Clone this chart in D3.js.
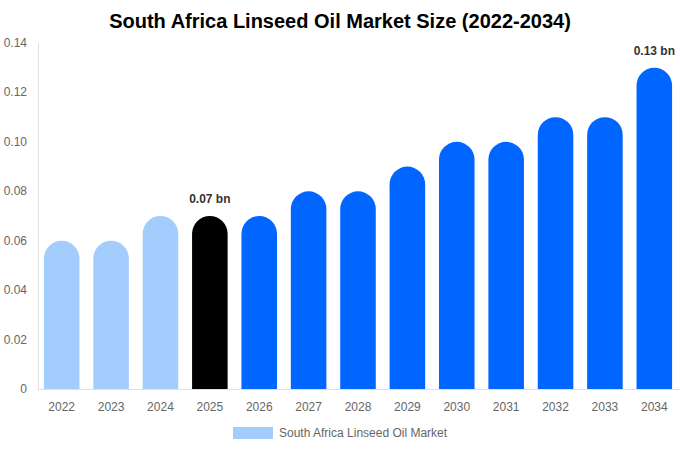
<!DOCTYPE html>
<html><head><meta charset="utf-8">
<script src="https://cdn.jsdelivr.net/npm/d3@7"></script>
<style>body{margin:0;background:#fff;font-family:"Liberation Sans",Arial,sans-serif;}</style>
</head><body><svg id="c" width="680" height="450"></svg>
<script>
const years = ["2022","2023","2024","2025","2026","2027","2028","2029","2030","2031","2032","2033","2034"];
const values = [0.06,0.06,0.07,0.07,0.07,0.08,0.08,0.09,0.10,0.10,0.11,0.11,0.13];
const yTicks = [0,0.02,0.04,0.06,0.08,0.10,0.12,0.14];
const labeled = {"2025":"0.07 bn","2034":"0.13 bn"};
const colLight="#a3cdfd", colHist="#000000", colFut="#0066ff";
const svg=d3.select("#c");
svg.append("text").attr("x",340).attr("y",28).attr("text-anchor","middle")
 .attr("font-size",20).attr("font-weight","bold").attr("fill","#000").text("South Africa Linseed Oil Market Size (2022-2034)");
const x=d3.scaleBand().domain(years).range([37,679]).paddingInner(0.28).paddingOuter(0.14);
const y=d3.scaleLinear().domain([0,0.14]).range([389,43]);
svg.append("line").attr("x1",38.5).attr("x2",38.5).attr("y1",43).attr("y2",389).attr("stroke","#e0e0e0");
svg.append("line").attr("x1",37).attr("x2",680).attr("y1",389.5).attr("y2",389.5).attr("stroke","#e0e0e0");
svg.selectAll(".yt").data(yTicks).enter().append("text").attr("x",27).attr("y",d=>y(d)+4)
 .attr("text-anchor","end").attr("font-size",12).attr("fill","#666").text(d=>d===0?"0":d.toFixed(2));
svg.selectAll(".xt").data(years).enter().append("text").attr("x",d=>x(d)+x.bandwidth()/2).attr("y",411)
 .attr("text-anchor","middle").attr("font-size",12).attr("fill","#666").text(d=>d);
function barPath(x0,w,top,bottom){const r=w/2;const t=Math.min(top+r,bottom);
 return `M${x0},${bottom}L${x0},${t}A${r},${r} 0 0 1 ${x0+w},${t}L${x0+w},${bottom}Z`;}
svg.selectAll(".bar").data(years).enter().append("path")
 .attr("d",(d,i)=>barPath(x(d),x.bandwidth(),y(values[i]),y(0)))
 .attr("fill",(d,i)=>i<3?colLight:(i===3?colHist:colFut));
Object.keys(labeled).forEach(k=>{const i=years.indexOf(k);
 svg.append("text").attr("x",x(k)+x.bandwidth()/2).attr("y",y(values[i])-13).attr("text-anchor","middle")
 .attr("font-size",12).attr("font-weight","bold").attr("fill","#333").text(labeled[k]);});
svg.append("rect").attr("x",233).attr("y",427).attr("width",40).attr("height",12).attr("fill",colLight);
svg.append("text").attr("x",279).attr("y",437).attr("font-size",12).attr("fill","#666").text("South Africa Linseed Oil Market");
</script></body></html>
